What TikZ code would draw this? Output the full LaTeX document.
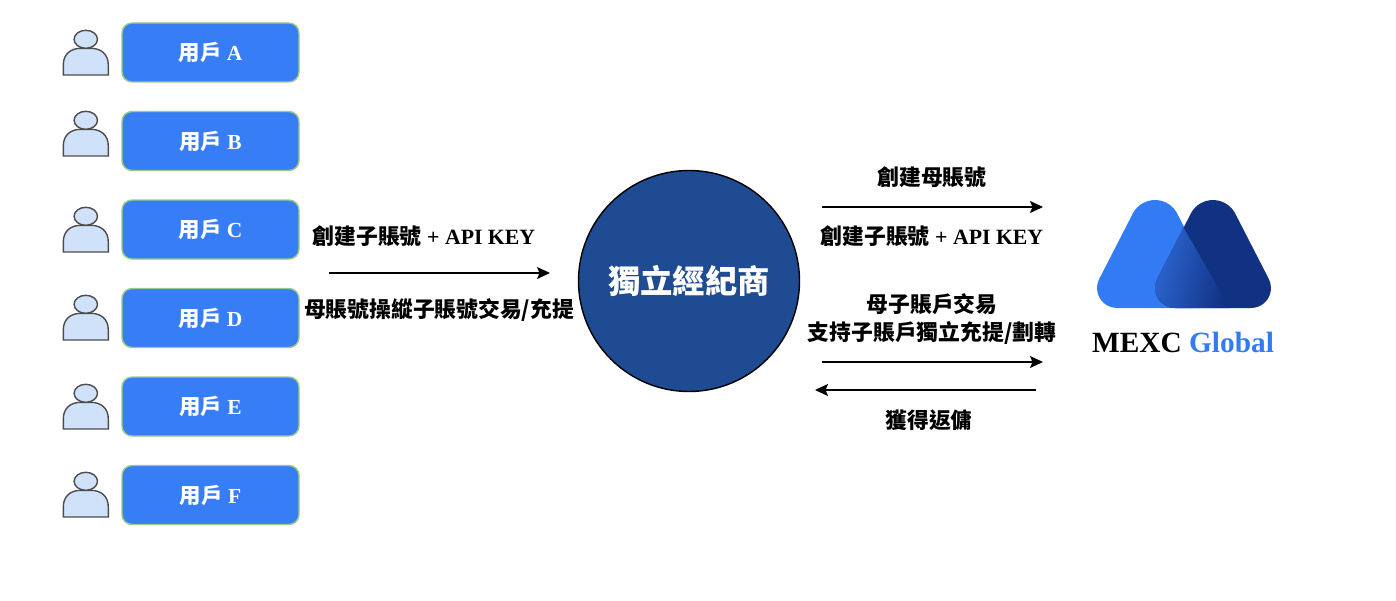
\documentclass[tikz,border=0pt]{standalone}
\usepackage{fontspec}
\usepackage{xcolor}
\usetikzlibrary{arrows.meta}
\setmainfont{Liberation Serif}
\newfontfamily\cjk{Noto Sans CJK TC}
\definecolor{userblue}{HTML}{377EF6}
\definecolor{usergreen}{HTML}{9CC98A}
\definecolor{skinblue}{HTML}{CFE2FA}
\definecolor{brokerblue}{HTML}{1F4B92}
\definecolor{logolight}{HTML}{337BF2}
\definecolor{logomid}{HTML}{2E6AD6}
\definecolor{logodark}{HTML}{113183}
\newcommand{\logotri}{(150:0.5) -- (-1.106,-1.06) arc[start angle=150, end angle=270, radius=0.4] -- (0.76,-1.66) arc[start angle=-90, end angle=30, radius=0.4] -- (30:0.5) arc[start angle=30, end angle=150, radius=0.5] -- cycle}
\tikzset{
    userbox/.style={draw=usergreen, thick, fill=userblue, rounded corners=0.2cm, minimum width=3.54cm, minimum height=1.18cm, text=white, font=\bfseries\fontsize{12.2}{14}\selectfont},
    label/.style={text=black, font=\bfseries\fontsize{12.4}{15.5}\selectfont, align=center, inner sep=0pt},
    flow/.style={black, thick, -{Stealth[length=0.26cm, width=0.24cm, inset=0.05cm]}},
    person/.pic={
        \draw[black!70, thick, fill=skinblue] (-0.45,0) -- (-0.45,0.2) .. controls (-0.45,0.42) and (-0.3,0.534) .. (-0.1,0.534) -- (0.1,0.534) .. controls (0.3,0.534) and (0.45,0.42) .. (0.45,0.2) -- (0.45,0) -- cycle;
        \draw[black!70, thick, fill=skinblue] (0,0.714) ellipse (0.234 and 0.18);
    }
}
\begin{document}
\begin{tikzpicture}
    \useasboundingbox (0,0) rectangle (27.92,12);
    % users
    \node[userbox] (userA) at (4.21,10.95){{\cjk 用戶} A};
    \node[userbox] (userB) at (4.21,9.18){{\cjk 用戶} B};
    \node[userbox] (userC) at (4.21,7.41){{\cjk 用戶} C};
    \node[userbox] (userD) at (4.21,5.64){{\cjk 用戶} D};
    \node[userbox] (userE) at (4.21,3.87){{\cjk 用戶} E};
    \node[userbox] (userF) at (4.21,2.10){{\cjk 用戶} F};
    \pic at (1.716,10.5) {person};
    \pic at (1.716,8.88) {person};
    \pic at (1.716,6.96) {person};
    \pic at (1.716,5.2) {person};
    \pic at (1.716,3.42) {person};
    \pic at (1.716,1.66) {person};
    % broker
    \node[circle, draw=black, thick, fill=brokerblue, minimum size=4.42cm, inner sep=0pt, text=white, font=\bfseries\fontsize{18.4}{20}\selectfont] (broker) at (13.78,6.38){\cjk 獨立經紀商};
    % left side
    \coordinate (leftstart) at (6.58,6.54);
    \coordinate (leftend) at (11,6.54);
    \draw[flow] (leftstart) -- (leftend);
    \node[label] (leftup) at (8.48,7.28){{\cjk 創建子賬號} + API KEY};
    \node[label] (leftdown) at (8.78,5.8){\cjk 母賬號操縱子賬號交易/充提};
    % right side
    \coordinate (createstart) at (16.44,7.86);
    \coordinate (createend) at (20.86,7.86);
    \coordinate (tradestart) at (16.44,4.76);
    \coordinate (tradeend) at (20.86,4.76);
    \coordinate (rebatestart) at (20.72,4.2);
    \coordinate (rebateend) at (16.3,4.2);
    \draw[flow] (createstart) -- (createend);
    \draw[flow] (tradestart) -- (tradeend);
    \draw[flow] (rebatestart) -- (rebateend);
    \node[label] (createup) at (18.64,8.46){\cjk 創建母賬號};
    \node[label] (createdown) at (18.64,7.28){{\cjk 創建子賬號} + API KEY};
    \node[label] (trade) at (18.64,5.62){\cjk 母子賬戶交易\\\cjk 支持子賬戶獨立充提/劃轉};
    \node[label] (rebate) at (18.58,3.6){\cjk 獲得返傭};
    % logo
    \fill[logolight, shift={(23.1,7.5)}] \logotri;
    \fill[logodark, shift={(24.26,7.5)}] \logotri;
    \begin{scope}
        \clip[shift={(24.26,7.5)}] \logotri;
        \clip (23.4,7.92) -- (24.62,5.8) -- (22,5.8) -- (22,7.92) -- cycle;
        \path[left color=logomid, right color=logodark, shading angle=75] (23,5.84) rectangle (24.65,7.5);
    \end{scope}
    \node[text=black, inner sep=0pt, font=\bfseries\fontsize{16.7}{18}\selectfont] (logotext) at (23.66,5.16){MEXC \textcolor{logolight}{Global}};
\end{tikzpicture}
\end{document}
